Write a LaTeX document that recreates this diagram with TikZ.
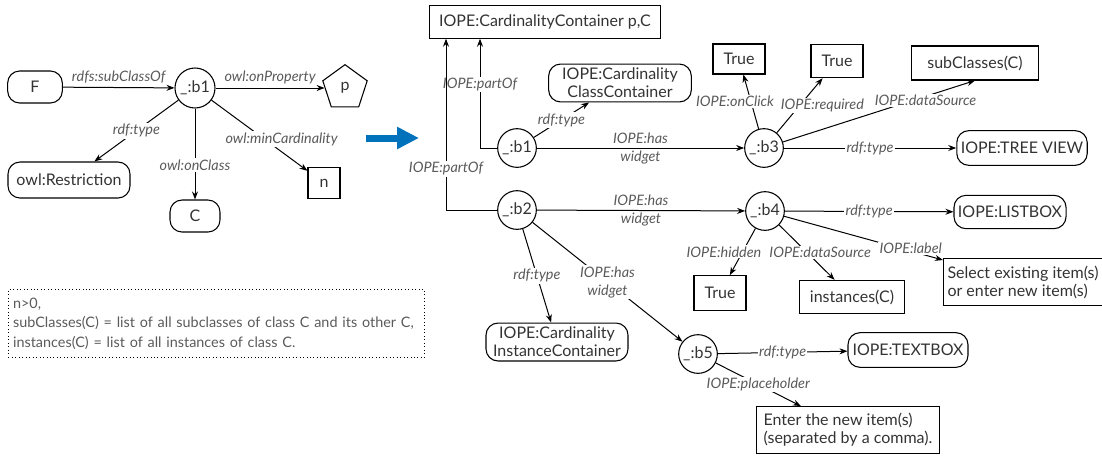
\documentclass[tikz,border=0pt]{standalone}
\usepackage{fontspec}
\setmainfont{Lato}
\usepackage{tikz}
\usetikzlibrary{arrows.meta,shapes.geometric}
\definecolor{txtgray}{RGB}{51,51,51}
\definecolor{lblgray}{RGB}{90,90,90}
\definecolor{arrowblue}{RGB}{0,114,188}

\begin{document}
\begin{tikzpicture}[x=0.75pt,y=0.75pt,yscale=-1,xscale=1,
    every node/.style={text=txtgray,font=\fontsize{12}{13.5}\selectfont},
    lit/.style={draw,line width=0.8pt,rounded corners=9pt,minimum height=26pt,inner sep=3pt,align=center},
    val/.style={draw,line width=0.8pt,minimum height=25pt,inner sep=3pt},
    bnode/.style={draw,circle,line width=0.8pt,minimum size=29pt,inner sep=0pt},
    prop/.style={draw,regular polygon,regular polygon sides=5,line width=0.8pt,minimum size=35pt,inner sep=0pt},
    lbl/.style={text=lblgray,font=\itshape\fontsize{10.8}{13.5}\selectfont,fill=white,inner sep=1pt,align=center},
    lblfree/.style={lbl,fill=none},
    arr/.style={line width=0.75pt,-{Stealth[length=6pt,width=4.5pt]}},
    note/.style={draw,dotted,line width=0.6pt,text=lblgray,font=\fontsize{10.8}{14.6}\selectfont,align=left,
        minimum width=312pt,minimum height=51pt,text width=305pt,inner xsep=3.5pt,inner ysep=6pt}]
\useasboundingbox (0,0) rectangle (1102,455);

% restriction in OWL
\node[lit,minimum width=41pt,minimum height=24pt] (F) at (35,87) {F};
\node[bnode,minimum size=30pt] (lb1) at (195,88) {\_:b1};
\node[prop] (p) at (345,88) {p};
\node[lit,minimum width=91.5pt,minimum height=27pt] (restr) at (69,180) {owl:Restriction};
\node[lit,minimum width=37.5pt,minimum height=24pt] (C) at (195,216) {C};
\node[val,minimum width=24pt,minimum height=23pt] (n) at (324,183) {n};

\draw[arr] (F) -- (lb1) node[lblfree,midway,above=2pt] {rdfs:subClassOf};
\draw[arr] (lb1) -- (p) node[lblfree,midway,above=2pt] {owl:onProperty};
\draw[arr] (lb1) -- (restr) node[lbl,midway] {rdf:type};
\draw[arr] (lb1) -- (C) node[lbl,pos=0.62] {owl:onClass};
\draw[arr] (lb1) -- (n) node[lbl,pos=0.55,xshift=13pt] {owl:minCardinality};

\node[note,anchor=north west] (defs) at (8,289) {n>0,\\subClasses(C) = list of all subclasses of class C and its other C,\\instances(C) = list of all instances of class C.};

% mapping arrow
\coordinate (mapA) at (366,138);
\coordinate (mapB) at (419,138);
\draw[arrowblue,line width=5.25pt,-{Triangle[length=16.5pt,width=15.75pt]}] (mapA) -- (mapB);

% widget description
\node[val,minimum width=173pt] (cont) at (545,22) {IOPE:CardinalityContainer p,C};
\node[bnode] (b1) at (517,148) {\_:b1};
\node[bnode] (b2) at (517,210) {\_:b2};
\node[bnode] (b3) at (764,148) {\_:b3};
\node[bnode] (b4) at (765,211) {\_:b4};
\node[bnode] (b5) at (698,354) {\_:b5};
\node[lit,minimum width=107pt,minimum height=28pt] (classcont) at (620,83) {IOPE:Cardinality\\ClassContainer};
\node[lit,minimum width=106.5pt,minimum height=28pt] (instcont) at (557,342) {IOPE:Cardinality\\InstanceContainer};
\node[val,minimum width=39pt,minimum height=22.5pt] (true1) at (739,59) {True};
\node[val,minimum width=39pt,minimum height=25pt] (true2) at (837,61) {True};
\node[val,minimum width=95pt,minimum height=25.5pt] (subcl) at (975,63) {subClasses(C)};
\node[lit,minimum width=97pt] (tree) at (1022,148) {IOPE:TREE VIEW};
\node[lit,minimum width=79pt,minimum height=25pt] (listbox) at (1010,212) {IOPE:LISTBOX};
\node[val,minimum width=39pt,minimum height=26pt] (true3) at (720,293) {True};
\node[val,minimum width=79pt] (inst) at (852,297) {instances(C)};
\node[val,minimum width=112.5pt,minimum height=35pt,align=left] (select) at (1023,282) {Select existing item(s)\\or enter new item(s)};
\node[lit,minimum width=90pt] (textbox) at (908,350) {IOPE:TEXTBOX};
\node[val,minimum width=137pt,minimum height=35pt,align=left] (enter) at (848,430) {Enter the new item(s)\\(separated by a comma).};

\coordinate (up1) at (480,38.7);
\coordinate (up2) at (446,38.7);
\draw[arr] (b1.west) -| (up1) node[lbl,pos=0.79] {IOPE:partOf};
\draw[arr] (b2.west) -| (up2) node[lbl,pos=0.62] {IOPE:partOf};

\draw[arr] (b1) -- (classcont) node[lbl,midway] {rdf:type};
\draw[arr] (b1) -- (b3) node[lblfree,midway] {IOPE:has\\widget};
\draw[arr] (b3) -- (true1) node[lbl,midway,xshift=-12pt] {IOPE:onClick};
\draw[arr] (b3) -- (true2) node[lbl,midway,xshift=17pt] {IOPE:required};
\draw[arr] (b3) -- (subcl.south) node[lbl,pos=0.68,xshift=9pt] {IOPE:dataSource};
\draw[arr] (b3) -- (tree) node[lbl,midway] {rdf:type};

\draw[arr] (b2) -- (b4) node[lblfree,midway] {IOPE:has\\widget};
\draw[arr] (b2) -- (instcont) node[lbl,midway] {rdf:type};
\draw[arr] (b2) -- (b5) node[lbl,midway] {IOPE:has\\widget};
\draw[arr] (b4) -- (listbox) node[lbl,midway] {rdf:type};
\draw[arr] (b4) -- (true3) node[lbl,midway,xshift=-14pt] {IOPE:hidden};
\draw[arr] (b4) -- (inst) node[lbl,midway,xshift=10pt] {IOPE:dataSource};
\draw[arr] (b4) -- (select) node[lbl,pos=0.73,xshift=8pt] {IOPE:label};
\draw[arr] (b5) -- (textbox) node[lbl,midway] {rdf:type};
\draw[arr] (b5) -- (enter) node[lbl,midway] {IOPE:placeholder};
\end{tikzpicture}
\end{document}
